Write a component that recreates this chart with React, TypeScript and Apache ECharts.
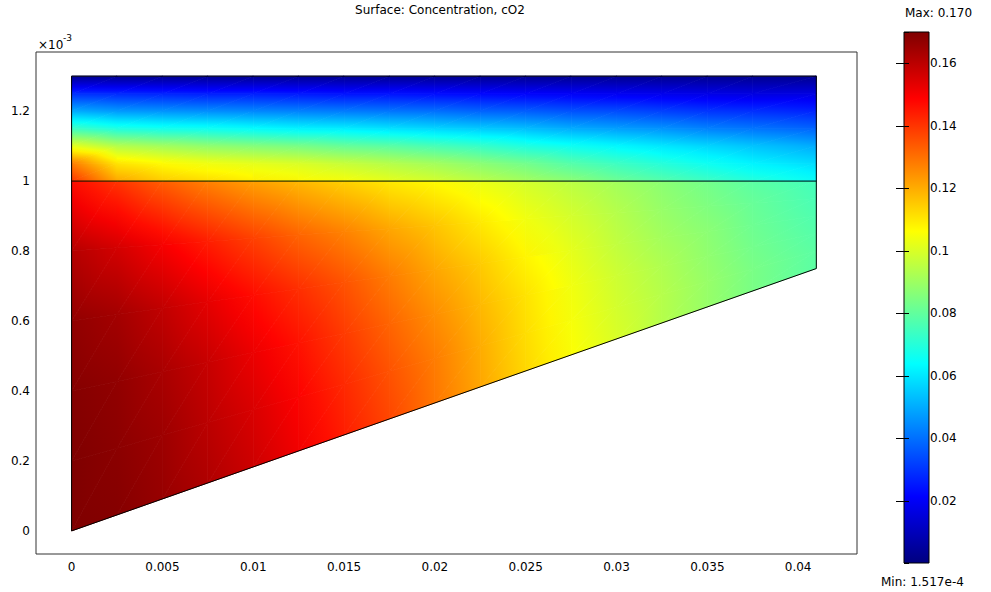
import React, { useEffect, useRef } from "react";
import * as echarts from "echarts";

const titleText = "Surface: Concentration, cO2";
const cMin = 1.517e-4;
const cMax = 0.17;
const maxLabel = "Max: 0.170";
const minLabel = "Min: 1.517e-4";
const jetColors = ["#00007f", "#0000ff", "#007fff", "#00ffff", "#7fff7f", "#ffff00", "#ff7f00", "#ff0000", "#7f0000"];

// geometry (x in m, y in units of 1e-3 m)
const xNodes = [0, 0.0025, 0.005, 0.0075, 0.01, 0.0125, 0.015, 0.0175, 0.02, 0.0225, 0.025, 0.0275, 0.03, 0.0325, 0.035, 0.0375, 0.041];
const interfaceY = 1.0;
const topY = 1.3;
const lowerRightY = 0.75;

// lower domain: rows at fractions between sloped bottom edge and interface
const bottomFractions = [0, 0.2, 0.4, 0.6, 0.8, 1];
const bottomValues = [
  [0.170, 0.169, 0.166, 0.162, 0.157, 0.151, 0.144, 0.137, 0.129, 0.121, 0.113, 0.106, 0.100, 0.094, 0.089, 0.084, 0.079],
  [0.170, 0.168, 0.165, 0.160, 0.155, 0.149, 0.142, 0.135, 0.128, 0.120, 0.112, 0.105, 0.099, 0.094, 0.089, 0.084, 0.079],
  [0.169, 0.167, 0.163, 0.158, 0.152, 0.146, 0.139, 0.132, 0.125, 0.118, 0.111, 0.104, 0.098, 0.093, 0.088, 0.083, 0.078],
  [0.167, 0.164, 0.159, 0.153, 0.147, 0.141, 0.135, 0.128, 0.121, 0.115, 0.108, 0.102, 0.096, 0.091, 0.087, 0.082, 0.077],
  [0.161, 0.156, 0.150, 0.144, 0.138, 0.132, 0.127, 0.121, 0.116, 0.110, 0.104, 0.099, 0.094, 0.089, 0.085, 0.081, 0.076],
  [0.147, 0.140, 0.133, 0.127, 0.122, 0.118, 0.114, 0.110, 0.107, 0.103, 0.099, 0.095, 0.091, 0.087, 0.083, 0.079, 0.075],
];

// upper domain: rows at absolute heights
const topRowsY = [1.0, 1.05, 1.1, 1.15, 1.2, 1.25, 1.3];
const topValues = [
  [0.140, 0.121, 0.115, 0.112, 0.109, 0.107, 0.105, 0.102, 0.099, 0.095, 0.091, 0.087, 0.082, 0.078, 0.074, 0.070, 0.065],
  [0.128, 0.111, 0.107, 0.104, 0.102, 0.100, 0.097, 0.094, 0.091, 0.087, 0.083, 0.078, 0.074, 0.070, 0.066, 0.062, 0.058],
  [0.102, 0.094, 0.091, 0.088, 0.086, 0.084, 0.081, 0.079, 0.076, 0.073, 0.069, 0.066, 0.063, 0.060, 0.057, 0.054, 0.050],
  [0.074, 0.069, 0.067, 0.066, 0.064, 0.062, 0.061, 0.059, 0.057, 0.055, 0.053, 0.050, 0.048, 0.046, 0.043, 0.041, 0.038],
  [0.050, 0.047, 0.046, 0.045, 0.044, 0.043, 0.042, 0.041, 0.040, 0.038, 0.037, 0.035, 0.034, 0.032, 0.030, 0.029, 0.027],
  [0.029, 0.028, 0.027, 0.026, 0.026, 0.025, 0.024, 0.024, 0.023, 0.022, 0.021, 0.020, 0.019, 0.018, 0.017, 0.016, 0.016],
  [0.003, 0.003, 0.003, 0.003, 0.003, 0.003, 0.003, 0.003, 0.003, 0.003, 0.003, 0.003, 0.003, 0.003, 0.003, 0.003, 0.003],
];

const xRight = xNodes[xNodes.length - 1];
const yLow = (x: number) => (lowerRightY * x) / xRight;

function colorAt(v: number): string {
  const t = Math.min(1, Math.max(0, (v - cMin) / (cMax - cMin)));
  return echarts.color.lerp(t, jetColors) as string;
}

type Tri = number[];
function buildTriangles(nodeY: (i: number, j: number) => number, vals: number[][]): Tri[] {
  const tris: Tri[] = [];
  for (let j = 0; j < vals.length - 1; j++) {
    for (let i = 0; i < xNodes.length - 1; i++) {
      const a = [xNodes[i], nodeY(i, j), vals[j][i]];
      const b = [xNodes[i + 1], nodeY(i + 1, j), vals[j][i + 1]];
      const c = [xNodes[i + 1], nodeY(i + 1, j + 1), vals[j + 1][i + 1]];
      const d = [xNodes[i], nodeY(i, j + 1), vals[j + 1][i]];
      tris.push([...a, ...b, ...c]);
      tris.push([...a, ...c, ...d]);
    }
  }
  return tris;
}

const bottomTris = buildTriangles(
  (i, j) => yLow(xNodes[i]) + bottomFractions[j] * (interfaceY - yLow(xNodes[i])),
  bottomValues
);
const topTris = buildTriangles((_i, j) => topRowsY[j], topValues);
const fieldTris = [...bottomTris, ...topTris];

const outline = [
  [0, 0],
  [xRight, lowerRightY],
  [xRight, topY],
  [0, topY],
  [0, 0],
];
const interfaceLine = [
  [0, interfaceY],
  [xRight, interfaceY],
];

const FONT = "'DejaVu Sans', 'Liberation Sans', Arial, sans-serif";

function renderTri(_params: any, api: any) {
  const P: number[][] = [];
  const V: number[] = [];
  for (let k = 0; k < 3; k++) {
    P.push(api.coord([api.value(k * 3), api.value(k * 3 + 1)]));
    V.push(api.value(k * 3 + 2));
  }
  const vmin = Math.min(...V);
  const vmax = Math.max(...V);
  let fill: any;
  const e1 = [P[1][0] - P[0][0], P[1][1] - P[0][1]];
  const e2 = [P[2][0] - P[0][0], P[2][1] - P[0][1]];
  const det = e1[0] * e2[1] - e1[1] * e2[0];
  if (vmax - vmin < 1e-7 || Math.abs(det) < 1e-9) {
    fill = colorAt((vmin + vmax) / 2);
  } else {
    const dv1 = V[1] - V[0];
    const dv2 = V[2] - V[0];
    const gx = (dv1 * e2[1] - dv2 * e1[1]) / det;
    const gy = (dv2 * e1[0] - dv1 * e2[0]) / det;
    const g2 = gx * gx + gy * gy;
    const ta = (vmin - V[0]) / g2;
    const tb = (vmax - V[0]) / g2;
    const n = Math.max(2, Math.ceil(((vmax - vmin) / (cMax - cMin)) * 32));
    const stops = [];
    for (let k = 0; k <= n; k++) {
      stops.push({ offset: k / n, color: colorAt(vmin + (k / n) * (vmax - vmin)) });
    }
    fill = {
      type: "linear",
      x: P[0][0] + gx * ta,
      y: P[0][1] + gy * ta,
      x2: P[0][0] + gx * tb,
      y2: P[0][1] + gy * tb,
      colorStops: stops,
      global: true,
    };
  }
  return {
    type: "polygon",
    shape: { points: P },
    style: { fill, stroke: fill, lineWidth: 0.8 },
  };
}

function renderBar(_params: any, api: any) {
  const p0 = api.coord([0, api.value(0)]);
  const p1 = api.coord([1, api.value(1)]);
  const n = jetColors.length - 1;
  const stops = jetColors.map((_c, k) => ({ offset: k / n, color: jetColors[n - k] }));
  return {
    type: "rect",
    shape: { x: p0[0], y: p1[1], width: p1[0] - p0[0], height: p0[1] - p1[1] },
    style: {
      fill: new echarts.graphic.LinearGradient(0, 0, 0, 1, stops),
    },
  };
}

export default function App() {
  const ref = useRef<HTMLDivElement>(null);
  useEffect(() => {
    if (!ref.current) return;
    const chart = echarts.init(ref.current, undefined, { renderer: "svg" });
    const axisLabelStyle = { color: "#000", fontSize: 12, fontFamily: FONT };
    chart.setOption({
      animation: false,
      backgroundColor: "#fff",
      textStyle: { fontFamily: FONT },
      grid: [
        { left: 36, top: 52, width: 821, height: 502, show: true, borderColor: "#333", borderWidth: 1, backgroundColor: "transparent" },
        { left: 904, top: 32, width: 25, height: 531, show: true, borderColor: "#000", borderWidth: 1, backgroundColor: "transparent", z: 5 },
      ],
      xAxis: [
        {
          type: "value",
          gridIndex: 0,
          min: -0.00196,
          max: 0.04324,
          splitNumber: 9,
          axisLine: { show: false },
          axisTick: { show: false },
          splitLine: { show: false },
          axisLabel: { ...axisLabelStyle, margin: 7, showMinLabel: false, showMaxLabel: false },
        },
        { type: "value", gridIndex: 1, min: 0, max: 1, show: false },
      ],
      yAxis: [
        {
          type: "value",
          gridIndex: 0,
          min: -0.066,
          max: 1.369,
          splitNumber: 7,
          axisLine: { show: false },
          axisTick: { show: false },
          splitLine: { show: false },
          axisLabel: { ...axisLabelStyle, margin: 6, showMinLabel: false, showMaxLabel: false },
        },
        {
          type: "value",
          gridIndex: 1,
          position: "right",
          min: cMin,
          max: cMax,
          splitNumber: 8,
          z: 10,
          axisLine: { show: false },
          axisTick: { show: true, inside: true, length: 8, lineStyle: { color: "#000" } },
          splitLine: { show: false },
          axisLabel: { ...axisLabelStyle, margin: 1, showMinLabel: false, showMaxLabel: false },
        },
        {
          type: "value",
          gridIndex: 1,
          position: "left",
          min: cMin,
          max: cMax,
          splitNumber: 8,
          z: 10,
          axisLine: { show: false },
          axisTick: { show: true, inside: true, length: 5, lineStyle: { color: "#000" } },
          splitLine: { show: false },
          axisLabel: { show: false },
        },
      ],
      series: [
        {
          type: "custom",
          name: "field",
          coordinateSystem: "cartesian2d",
          xAxisIndex: 0,
          yAxisIndex: 0,
          data: fieldTris,
          encode: { x: [0, 3, 6], y: [1, 4, 7] },
          renderItem: renderTri,
          silent: true,
          z: 1,
        },
        {
          type: "line",
          name: "outline",
          xAxisIndex: 0,
          yAxisIndex: 0,
          data: outline,
          symbol: "none",
          lineStyle: { color: "#000", width: 1 },
          silent: true,
          z: 3,
        },
        {
          type: "line",
          name: "interface",
          xAxisIndex: 0,
          yAxisIndex: 0,
          data: interfaceLine,
          symbol: "none",
          lineStyle: { color: "#000", width: 1 },
          silent: true,
          z: 3,
        },
        {
          type: "custom",
          name: "colorbar",
          coordinateSystem: "cartesian2d",
          xAxisIndex: 1,
          yAxisIndex: 1,
          data: [[cMin, cMax]],
          encode: { y: [0, 1] },
          renderItem: renderBar,
          silent: true,
          z: 1,
        },
      ],
      graphic: [
        { type: "text", x: 440, y: 10, style: { text: titleText, fill: "#000", font: `12px ${FONT}`, textAlign: "center", textVerticalAlign: "middle" } },
        { type: "text", x: 38, y: 45, style: { text: "×10", fill: "#000", font: `12px ${FONT}`, textAlign: "left", textVerticalAlign: "middle" } },
        { type: "text", x: 63, y: 38, style: { text: "-3", fill: "#000", font: `9px ${FONT}`, textAlign: "left", textVerticalAlign: "middle" } },
        { type: "text", x: 905, y: 13, style: { text: maxLabel, fill: "#000", font: `12px ${FONT}`, textAlign: "left", textVerticalAlign: "middle" } },
        { type: "text", x: 881, y: 582, style: { text: minLabel, fill: "#000", font: `12px ${FONT}`, textAlign: "left", textVerticalAlign: "middle" } },
      ],
    });
    return () => chart.dispose();
  }, []);
  return <div ref={ref} style={{ position: "fixed", left: 0, top: 0, width: 991, height: 592 }} />;
}
